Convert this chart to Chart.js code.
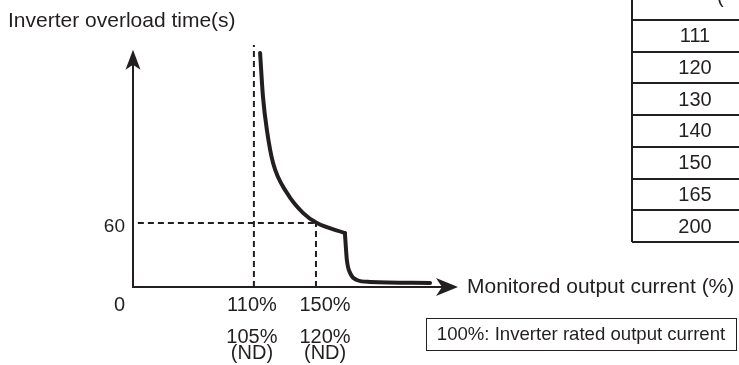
<!DOCTYPE html>
<html>
<head>
<meta charset="utf-8">
<script src="https://cdn.jsdelivr.net/npm/chart.js@4.4.0/dist/chart.umd.min.js"></script>
<style>
  html, body { margin: 0; padding: 0; background: #fff; }
</style>
</head>
<body>
<canvas id="myChart" width="739" height="365"></canvas>
<script>
// schematic units: x 0..100 along the current axis, y 0..100 along the time axis
// upper curve (inverse time) down to the corner, then the drop after the corner
const curveX = [39.1, 40.0, 41.2, 43.1, 47.4, 52.3, 56.6, 65.2];
const curveY = [96.7, 78.5, 64.9, 51.2, 38.8, 30.6, 26.4, 22.3];
const dropX = [65.2, 65.8, 66.8, 68.9, 72.9, 91.4];
const dropY = [22.3, 11.2, 5.8, 2.9, 2.1, 1.7];

const xTickPos = [36.6, 59.1];
const xTickLabels = [["110%", "", "105%", "(ND)"], ["150%", "", "120%", "(ND)"]];
const yTickPos = [25];
const yTickLabels = ["60"];

// dashed reference lines
const ref110X = 37.2;
const ref150X = 56.3;
const ref60Y = 26.4;

const tableLevels = [111, 120, 130, 140, 150, 165, 200];

const INK = '#231f20';
const FONT = '"Liberation Sans", Arial, sans-serif';

const toPoints = (xs, ys) => xs.map((x, i) => ({ x: x, y: ys[i] }));

const solid = (pts) => ({
    data: pts,
    showLine: true,
    borderColor: INK,
    borderWidth: 4,
    borderCapStyle: 'round',
    pointRadius: 0,
    cubicInterpolationMode: 'monotone'
});

const dashed = (pts) => ({
    data: pts,
    showLine: true,
    borderColor: INK,
    borderWidth: 2,
    borderDash: [6, 4],
    pointRadius: 0,
    tension: 0
});

const overlay = {
    id: 'overlay',
    beforeDatasetsDraw(chart) {
        const ctx = chart.ctx;
        const xs = chart.scales.x, ys = chart.scales.y;
        const x0 = xs.getPixelForValue(0), y0 = ys.getPixelForValue(0);
        ctx.save();
        ctx.strokeStyle = INK;
        ctx.fillStyle = INK;
        ctx.lineWidth = 2;
        // y axis with arrow
        const yTip = ys.getPixelForValue(98);
        ctx.beginPath();
        ctx.moveTo(x0, y0 + 1);
        ctx.lineTo(x0, yTip + 14);
        ctx.stroke();
        ctx.beginPath();
        ctx.moveTo(x0, yTip);
        ctx.lineTo(x0 + 7.5, yTip + 20);
        ctx.lineTo(x0, yTip + 15);
        ctx.lineTo(x0 - 7.5, yTip + 20);
        ctx.closePath();
        ctx.fill();
        // x axis with arrow
        const xTip = xs.getPixelForValue(100);
        ctx.beginPath();
        ctx.moveTo(x0 - 1, y0);
        ctx.lineTo(xTip - 16, y0);
        ctx.stroke();
        ctx.beginPath();
        ctx.moveTo(xTip, y0);
        ctx.lineTo(xTip - 22, y0 - 9);
        ctx.lineTo(xTip - 16, y0);
        ctx.lineTo(xTip - 22, y0 + 9);
        ctx.closePath();
        ctx.fill();
        ctx.restore();
    },
    afterDraw(chart) {
        const ctx = chart.ctx;
        const xs = chart.scales.x, ys = chart.scales.y;
        const x0 = xs.getPixelForValue(0), y0 = ys.getPixelForValue(0);
        ctx.save();
        ctx.fillStyle = INK;
        ctx.textBaseline = 'middle';
        ctx.font = '21px ' + FONT;
        ctx.textAlign = 'left';
        ctx.fillText('Inverter overload time(s)', 8, 21);
        ctx.fillText('Monitored output current (%)', xs.getPixelForValue(100) + 9, y0);
        ctx.font = '20px ' + FONT;
        ctx.textAlign = 'right';
        ctx.fillText('0', x0 - 8, y0 + 18);
        // note box
        ctx.font = '18.6px ' + FONT;
        ctx.textAlign = 'center';
        ctx.strokeStyle = INK;
        ctx.lineWidth = 1;
        ctx.strokeRect(426.5, 318.5, 310, 32);
        ctx.fillText('100%: Inverter rated output current', 581, 335);
        // table (cut at right edge)
        ctx.font = '20px ' + FONT;
        const tLeft = 632, rowTop = 20, rowH = 31.7;
        ctx.lineWidth = 2;
        ctx.beginPath();
        ctx.moveTo(tLeft, 0);
        ctx.lineTo(tLeft, rowTop + rowH * tableLevels.length);
        for (let i = 0; i <= tableLevels.length; i++) {
            const yy = Math.round(rowTop + rowH * i);
            ctx.moveTo(tLeft, yy);
            ctx.lineTo(739, yy);
        }
        ctx.stroke();
        tableLevels.forEach((v, i) => {
            ctx.fillText(String(v), 695, rowTop + rowH * (i + 0.5) + 1);
        });
        ctx.textAlign = 'left';
        ctx.textBaseline = 'alphabetic';
        ctx.fillText('(', 717, 3);
        ctx.restore();
    }
};

const loadChart = () => {
    const ctx = document.getElementById('myChart').getContext('2d');
    new Chart(ctx, {
        type: 'scatter',
        data: {
            datasets: [
                solid(toPoints(curveX, curveY)),
                solid(toPoints(dropX, dropY)),
                dashed([{ x: ref110X, y: 0 }, { x: ref110X, y: 100 }]),
                dashed([{ x: 1.5, y: ref60Y }, { x: ref150X, y: ref60Y }]),
                dashed([{ x: ref150X, y: 0 }, { x: ref150X, y: ref60Y }])
            ]
        },
        options: {
            responsive: false,
            animation: false,
            devicePixelRatio: 1,
            layout: { padding: { top: 45, right: 281, left: 0, bottom: 0 } },
            plugins: { legend: { display: false }, tooltip: { enabled: false } },
            scales: {
                x: {
                    type: 'linear',
                    min: 0,
                    max: 100,
                    grid: { display: false, drawTicks: false },
                    border: { display: false },
                    afterBuildTicks: (s) => { s.ticks = xTickPos.map(v => ({ value: v })); },
                    afterFit: (s) => { s.height = 78; },
                    ticks: {
                        padding: 10,
                        maxRotation: 0,
                        autoSkip: false,
                        color: INK,
                        font: { family: FONT, size: 20, lineHeight: 0.8 },
                        callback: (v) => xTickLabels[xTickPos.indexOf(v)]
                    }
                },
                y: {
                    type: 'linear',
                    min: 0,
                    max: 100,
                    grid: { display: false, drawTicks: false },
                    border: { display: false },
                    afterBuildTicks: (s) => { s.ticks = yTickPos.map(v => ({ value: v })); },
                    afterFit: (s) => { s.width = 133; },
                    ticks: {
                        padding: 8,
                        autoSkip: false,
                        color: INK,
                        font: { family: FONT, size: 19 },
                        callback: (v) => yTickLabels[yTickPos.indexOf(v)]
                    }
                }
            }
        },
        plugins: [overlay]
    });
};

loadChart();
</script>
</body>
</html>
